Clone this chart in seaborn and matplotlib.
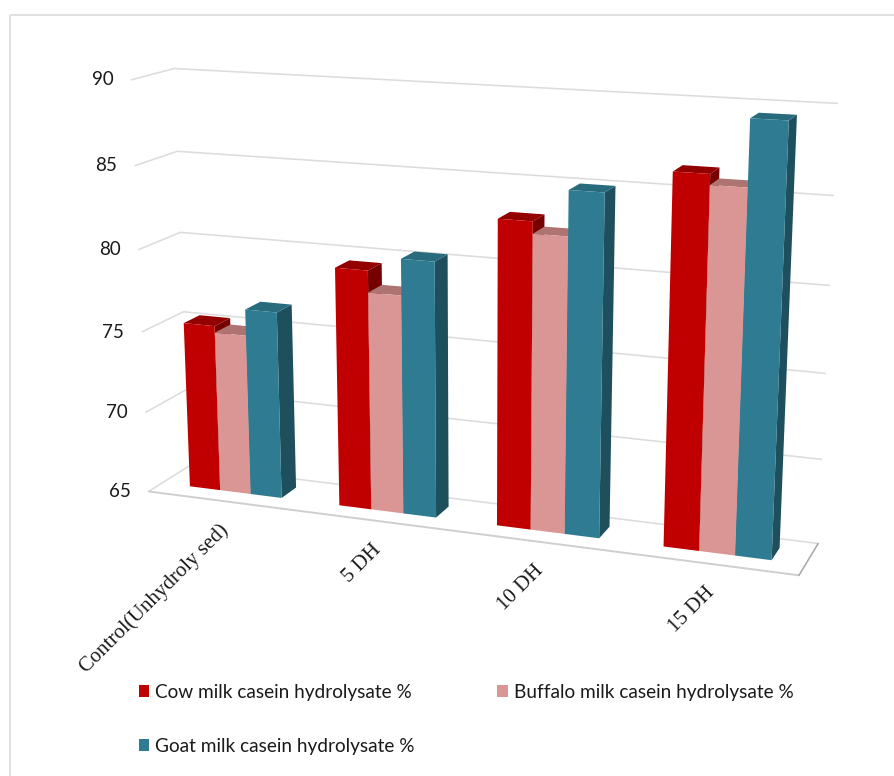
import numpy as np
import pandas as pd
import matplotlib
matplotlib.use("Agg")
import matplotlib.pyplot as plt
from matplotlib.patches import Polygon, Rectangle
from matplotlib.transforms import Transform
import seaborn as sns

stages = ["Control(Unhydroly sed)", "5 DH", "10 DH", "15 DH"]
cow = [75.3, 79.5, 83.1, 86.4]
buffalo = [74.9, 78.2, 82.4, 85.8]
goat = [76.5, 80.35, 85.0, 89.5]
series_names = ["Cow milk casein hydrolysate %",
                "Buffalo milk casein hydrolysate %",
                "Goat milk casein hydrolysate %"]
value_ticks = [65, 70, 75, 80, 85, 90]

front_colors = ["#C00000", "#D99694", "#2E7B92"]
top_colors = ["#930000", "#AE7472", "#276B7D"]
side_colors = ["#760000", "#8F6160", "#1D4F5D"]

BAR_FRONT, BAR_BACK = 0.33, 0.72
V_MIN, V_MAX = value_ticks[0], value_ticks[-1]
C_MIN, C_MAX = -0.5, 3.5

# Where the corners of the chart box land on the canvas, in pixels:
# value, then (x, y) for the front-left, back-left and back-right box edges.
box_edges = [
    (90, (130, 80), (174, 69), (838, 103)),
    (85, (134, 166), (178, 151), (834, 196)),
    (80, (138, 250), (181, 232), (830, 286)),
    (75, (142, 332), (184, 311), (826, 373)),
    (70, (146, 412), (186, 390), (822, 459)),
    (65, (149, 491), (188, 467), (818, 543)),
]
floor_front_right = (799, 576)


def solve_camera():
    """Least-squares 3x4 projective camera from the box corners."""
    world, pixel = [], []
    for v, fl, bl, br in box_edges:
        nv = (v - V_MIN) / (V_MAX - V_MIN)
        world += [(0, nv, 0), (0, nv, 1), (1, nv, 1)]
        pixel += [fl, bl, br]
    world.append((1, 0, 0))
    pixel.append(floor_front_right)
    rows = []
    for (a, b, c), (px, py) in zip(world, pixel):
        u, w = px / 800, py / 800
        h = [a, b, c, 1]
        rows.append(h + [0, 0, 0, 0] + [-u * t for t in h])
        rows.append([0, 0, 0, 0] + h + [-w * t for t in h])
    return np.linalg.svd(np.array(rows, float))[2][-1].reshape(3, 4)


CAMERA = solve_camera()


def project(c, v, d):
    c, v, d = np.broadcast_arrays(np.asarray(c, float), np.asarray(v, float), np.asarray(d, float))
    h = np.stack([(c - C_MIN) / (C_MAX - C_MIN), (v - V_MIN) / (V_MAX - V_MIN), d, np.ones_like(c)], axis=-1)
    q = h @ CAMERA.T
    return np.stack([q[..., 0] / q[..., 2] * 800, q[..., 1] / q[..., 2] * 800], axis=-1)


class FrontPlane(Transform):
    """Maps (category, value) on the bars' front plane to canvas pixels."""
    input_dims = output_dims = 2
    is_separable = False

    def __init__(self, plane_depth):
        super().__init__()
        self.plane_depth = plane_depth

    def transform_non_affine(self, values):
        values = np.asarray(values, float)
        return project(values[:, 0], values[:, 1], self.plane_depth)


sns.set_theme(style="white")
plt.rcParams["font.family"] = ["Lato", "DejaVu Sans"]

table = pd.DataFrame({
    "stage": stages * 3,
    "series": np.repeat(series_names, len(stages)),
    "percent": cow + buffalo + goat,
})

fig = plt.figure(figsize=(8.94, 7.76), dpi=100)
ax = fig.add_axes([0, 0, 1, 1])
sns.barplot(data=table, x="stage", y="percent", hue="series", palette=front_colors,
            hue_order=series_names, order=stages, width=0.62, gap=0, saturation=1,
            errorbar=None, linewidth=0, ax=ax)
ax.set_xlim(0, 894)
ax.set_ylim(776, 0)
ax.axis("off")

# Page outline
ax.add_patch(Rectangle((10, 15), 900, 800, fill=False, ec="#E1E1E1", lw=1.5, zorder=0))

# Floor, then the gridlines running along the side and back walls
grid_color = "#DCDCDC"
floor = project([C_MIN, C_MAX, C_MAX, C_MIN], V_MIN, [0, 0, 1, 1])
ax.add_patch(Polygon(floor, closed=True, fc="white", ec="none", zorder=1))
for v in value_ticks:
    path = project([C_MIN, C_MIN, C_MAX], v, [0, 1, 1])
    ax.plot(path[:, 0], path[:, 1], color=grid_color, lw=1.15, zorder=2, solid_capstyle="butt")
front_edge = project([C_MIN, C_MAX], V_MIN, 0)
ax.plot(front_edge[:, 0], front_edge[:, 1], color="#CFCFCF", lw=1.4, zorder=2)
right_edge = project([C_MAX, C_MAX], V_MIN, [0, 1])
ax.plot(right_edge[:, 0], right_edge[:, 1], color="#A6A6A6", lw=1.1, zorder=2)

# Seaborn's bars become the front faces; side and top faces follow each one
front_plane = FrontPlane(BAR_FRONT) + ax.transData
bars = []
for k, container in enumerate(ax.containers):
    for bar in container:
        bars.append((bar.get_x(), k, bar))
bars.sort(key=lambda item: item[0])

z = 3
for x0, k, bar in bars:
    top_value = bar.get_height()
    x1 = x0 + bar.get_width()
    side = project([x1, x1, x1, x1], [V_MIN, top_value, top_value, V_MIN],
                   [BAR_FRONT, BAR_FRONT, BAR_BACK, BAR_BACK])
    top = project([x0, x1, x1, x0], top_value, [BAR_FRONT, BAR_FRONT, BAR_BACK, BAR_BACK])
    ax.add_patch(Polygon(side, closed=True, fc=side_colors[k], ec="none", zorder=z))
    ax.add_patch(Polygon(top, closed=True, fc=top_colors[k], ec="none", zorder=z + 0.1))
    bar.set_y(V_MIN)
    bar.set_height(top_value - V_MIN)
    bar.set_transform(front_plane)
    bar.set_clip_on(False)
    bar.set_zorder(z + 0.2)
    z += 1

# Value labels sit just left of the front wall edge
for v in value_ticks:
    x, y = project(C_MIN, v, 0)
    ax.annotate(str(v), (x, y), xytext=(-12.5, 0), textcoords="offset points",
                ha="right", va="center", fontsize=13.5, color="#1A1A1A")

# Category labels hang from the floor's front edge at 45 degrees
for i, name in enumerate(stages):
    x, y = project(i, V_MIN, 0)
    ax.annotate(name, (x, y), xytext=(-3, -14), textcoords="offset points",
                ha="right", va="top", rotation=45, rotation_mode="anchor",
                fontsize=15, family="Liberation Serif", color="#1A1A1A")

# Legend columns fill top-down: cow over goat, buffalo alone on the right
old_legend = ax.get_legend()
handles = list(old_legend.legend_handles)
old_legend.remove()
ax.legend([handles[0], handles[2], handles[1]],
          [series_names[0], series_names[2], series_names[1]],
          loc="upper left", bbox_to_anchor=(0.1555, 0.119), ncol=2, frameon=False,
          fontsize=13.7, handlelength=0.55, handleheight=0.55, handletextpad=0.3,
          columnspacing=4.35, labelspacing=1.95, borderpad=0, borderaxespad=0,
          labelcolor="#1A1A1A")

fig.savefig("out.png", dpi=100)
